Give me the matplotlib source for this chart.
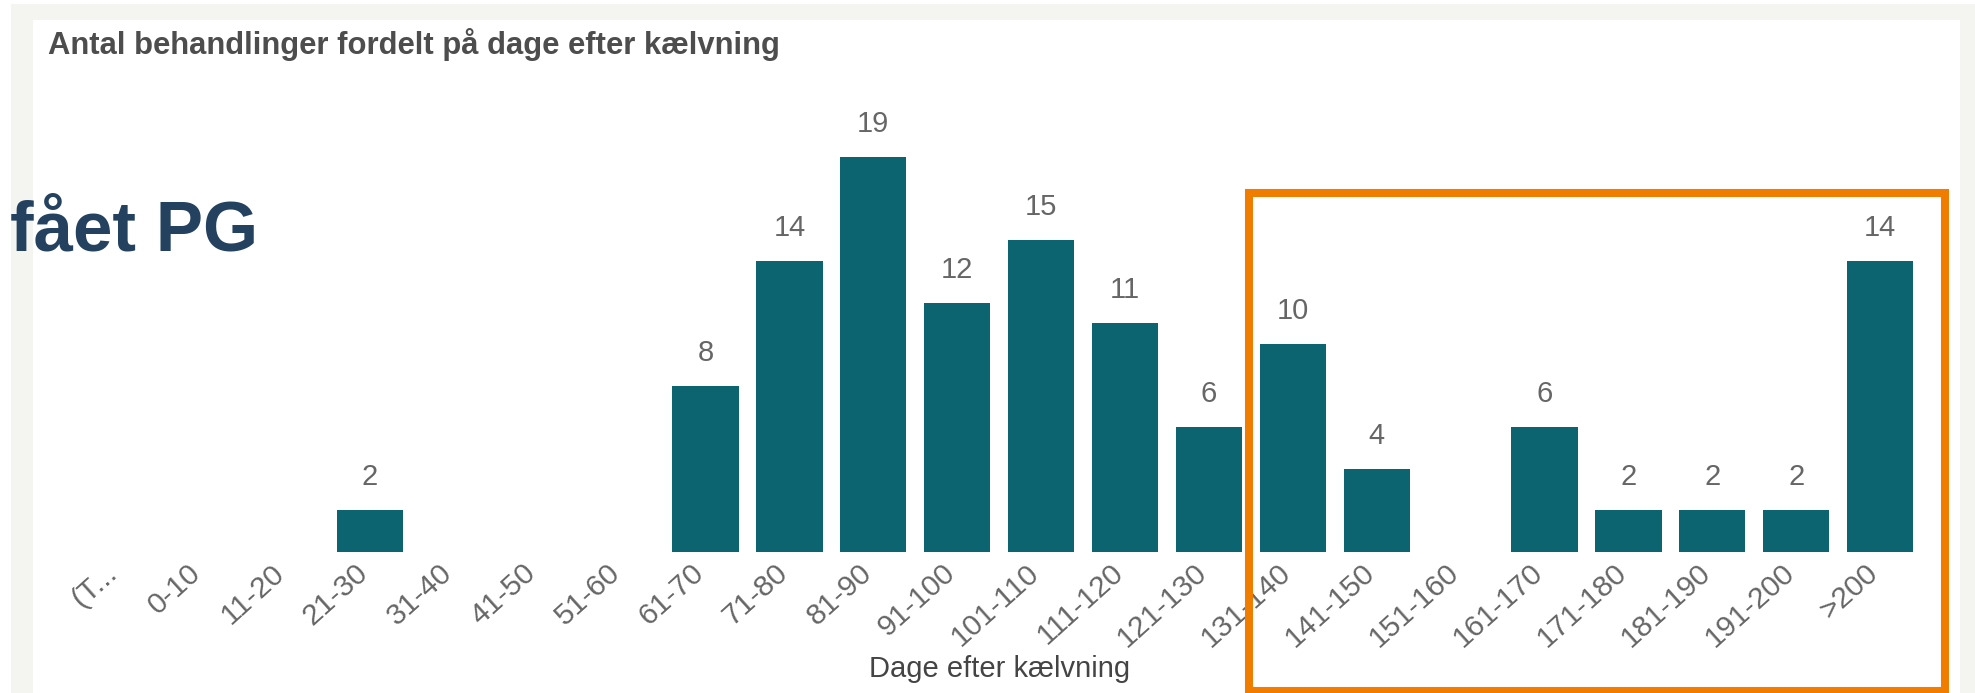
import matplotlib
matplotlib.use("Agg")
import matplotlib.pyplot as plt
import matplotlib.transforms as mtransforms
from matplotlib.patches import Rectangle

plt.rcParams['font.family'] = ['Liberation Sans', 'DejaVu Sans']

# data
categories = ['(T...', '0-10', '11-20', '21-30', '31-40', '41-50', '51-60',
              '61-70', '71-80', '81-90', '91-100', '101-110', '111-120',
              '121-130', '131-140', '141-150', '151-160', '161-170',
              '171-180', '181-190', '191-200', '>200']
counts = [0, 0, 0, 2, 0, 0, 0, 8, 14, 19, 12, 15, 11, 6, 10, 4, 0, 6, 2, 2, 2, 14]

title = "Antal behandlinger fordelt på dage efter kælvning"
xlabel = "Dage efter kælvning"
side_text = "fået PG"

bar_color = '#0b6470'
text_gray = '#666666'

W, H = 1975, 693
fig = plt.figure(figsize=(W / 100, H / 100), dpi=100, facecolor='white')

# grey frame of the report page + white visual panel
fig.patches.append(Rectangle((11 / W, 0), 1 - 11 / W, 1 - 4 / H,
                             transform=fig.transFigure, facecolor='#f4f4f0',
                             edgecolor='none', zorder=-2))
fig.patches.append(Rectangle((33 / W, 0), (1960 - 33) / W, 1 - 20 / H,
                             transform=fig.transFigure, facecolor='white',
                             edgecolor='none', zorder=-1))

ax = fig.add_axes([76.3 / W, 0.2039, 0.93453, 0.689])
ax.set_zorder(1)
ax.set_facecolor('none')
x = list(range(len(categories)))
ax.bar(x, counts, width=0.79, color=bar_color, zorder=2)

for i, v in enumerate(counts):
    if v == 0:
        continue
    ax.annotate(str(v), (i, v), xytext=(0, 18), textcoords='offset points',
                ha='center', va='baseline', fontsize=21, color=text_gray)

ax.set_xlim(-0.5, len(categories) - 0.5)
ax.set_ylim(0, 23)
ax.set_xticks(x)
ax.set_xticklabels(categories, rotation=42, ha='right', va='top',
                   rotation_mode='anchor', fontsize=21.5, color=text_gray)
ax.tick_params(axis='x', length=0, pad=5)
shift = mtransforms.ScaledTranslation(-15 / 100, 0, fig.dpi_scale_trans)
for lbl in ax.get_xticklabels():
    lbl.set_transform(lbl.get_transform() + shift)
ax.set_yticks([])
for s in ax.spines.values():
    s.set_visible(False)

fig.text(1000 / W, 16 / H, xlabel, ha='center', va='baseline',
         fontsize=21, color='#444444', zorder=3)
fig.text(48 / W, 1 - 54 / H, title, ha='left', va='baseline',
         fontsize=22.3, fontweight='bold', color='#4d4d4d', zorder=3)
fig.text(10 / W, 1 - 250 / H, side_text, ha='left', va='baseline',
         fontsize=51, fontweight='bold', color='#24425f', zorder=3)

# orange highlight box
fig.patches.append(Rectangle((1249 / W, 2 / H), (1944.5 - 1249) / W, (691 - 193) / H,
                             transform=fig.transFigure, facecolor='none',
                             edgecolor='#f07d00', linewidth=5.8, zorder=5))

fig.savefig('out.png', dpi=100, facecolor=fig.get_facecolor())
